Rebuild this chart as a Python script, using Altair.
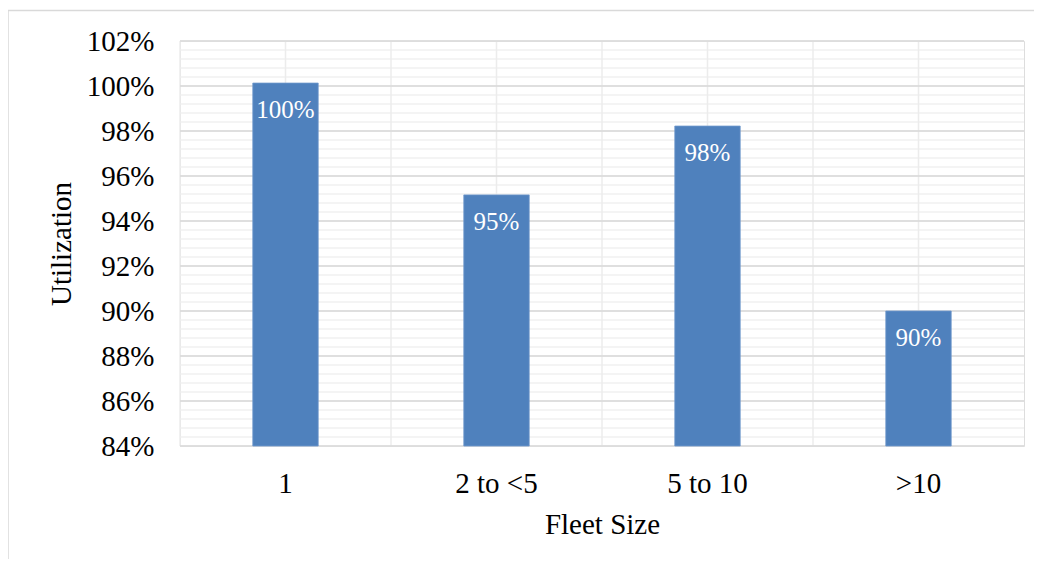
import altair as alt
import pandas as pd

categories = ["1", "2 to <5", "5 to 10", ">10"]
utilization = [1.0013, 0.9516, 0.9822, 0.9000]
bar_labels = ["100%", "95%", "98%", "90%"]
y_ticks = [0.84, 0.86, 0.88, 0.90, 0.92, 0.94, 0.96, 0.98, 1.00, 1.02]
minor_ticks = [round(0.84 + 0.004 * i, 4) for i in range(46)]

FONT = "Liberation Serif"
BLUE = "#4f81bd"

df = pd.DataFrame({"cat": categories, "val": utilization, "lab": bar_labels})
major_df = pd.DataFrame({"val": y_ticks})
minor_df = pd.DataFrame({"val": minor_ticks})
cat_df = pd.DataFrame({"cat": categories})

yscale = alt.Scale(domain=[0.84, 1.02], nice=False, zero=False)
xscale = alt.Scale(paddingInner=0, paddingOuter=0)

xaxis = alt.Axis(
    title="Fleet Size", labelAngle=0, domain=False, ticks=False, tickSize=0,
    grid=False, labelPadding=46, labelBaseline="alphabetic",
    labelFont=FONT, labelFontSize=29, labelColor="#000000",
    titleFont=FONT, titleFontSize=29, titleFontWeight="normal", titleColor="#000000",
    titleX=422, titleY=87, titleBaseline="alphabetic", titleAlign="center",
)
yaxis = alt.Axis(
    title="Utilization", values=y_ticks, format=".0%", domain=False, ticks=False,
    tickSize=0, grid=False, labelPadding=26, labelFont=FONT, labelFontSize=29,
    labelColor="#000000", labelBaseline="middle",
    titleFont=FONT, titleFontSize=29, titleFontWeight="normal", titleColor="#000000",
    titleX=-110, titleY=202.5, titleAngle=270, titleBaseline="alphabetic",
    titleAlign="center",
)

def X(**kw):
    return alt.X("cat:N", sort=categories, scale=xscale, axis=xaxis, **kw)

def Y():
    return alt.Y("val:Q", scale=yscale, axis=yaxis)

minor = alt.Chart(minor_df).mark_rule(color="#f0f0f0", strokeWidth=1.5).encode(y=Y())
vcenter = alt.Chart(cat_df).mark_rule(color="#ececec", strokeWidth=1.5).encode(x=X())
vedge = alt.Chart(cat_df).mark_rule(color="#ececec", strokeWidth=1.5).encode(
    x=X(bandPosition=0)
)
major = alt.Chart(major_df).mark_rule(color="#d9d9d9", strokeWidth=1.5).encode(y=Y())

bars = alt.Chart(df).mark_bar(
    color=BLUE, width=alt.RelativeBandSize(0.31), stroke="#6f98cc", strokeWidth=0.8
).encode(
    x=X(),
    y=Y(),
    y2=alt.datum(0.84),
)

texts = alt.Chart(df).mark_text(
    color="white", font=FONT, fontSize=25, baseline="alphabetic", dy=35
).encode(
    x=X(),
    y=Y(),
    text="lab:N",
)

frame_data = alt.Data(values=[{"k": 0}])
frame_left = alt.Chart(frame_data).mark_rule(color="#d9d9d9", strokeWidth=1.5).encode(
    x=alt.value(-172), y=alt.value(-31), y2=alt.value(530)
)
frame_top = alt.Chart(frame_data).mark_rule(color="#d9d9d9", strokeWidth=1.5).encode(
    x=alt.value(-172), x2=alt.value(880), y=alt.value(-30.5)
)

chart = alt.layer(
    minor, vcenter, vedge, major, bars, texts, frame_left, frame_top
).properties(
    width=844, height=405,
    autosize=alt.AutoSizeParams(type="none"),
    padding={"left": 172, "top": 33, "right": 10, "bottom": 113},
    background="white",
).configure_view(
    stroke="#ececec", strokeWidth=1.5
).configure(font=FONT)

chart.save("out.html", embed_options={"renderer": "svg", "actions": False})
